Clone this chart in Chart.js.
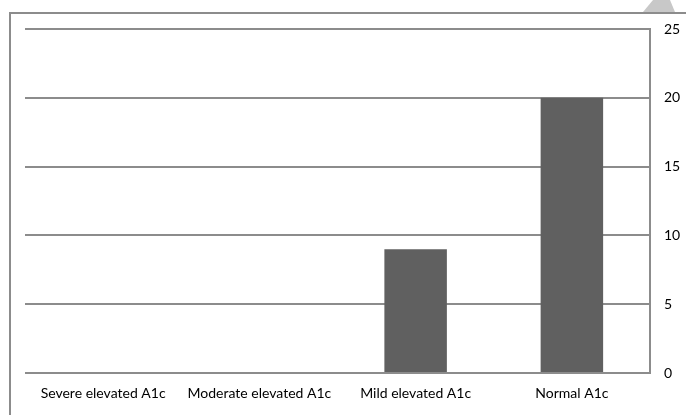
<!DOCTYPE html>
<html>
<head>
<meta charset="utf-8">
<script src="https://cdn.jsdelivr.net/npm/chart.js@4/dist/chart.umd.min.js"></script>
<style>
html,body{margin:0;padding:0;background:#fff;}
#wrap{width:686px;height:415px;position:relative;}
</style>
</head>
<body>
<div id="wrap"><canvas id="c" width="686" height="415"></canvas></div>
<script>
const categories = ["Severe elevated A1c", "Moderate elevated A1c", "Mild elevated A1c", "Normal A1c"];
const values = [0, 0, 9, 20];
const yMin = 0, yMax = 25, yStep = 5;

const framePlugin = {
  id: 'frame',
  beforeDraw(chart) {
    const ctx = chart.ctx;
    ctx.save();
    ctx.fillStyle = '#ffffff';
    ctx.fillRect(0, 0, chart.width, chart.height);
    // outer frame lines
    ctx.strokeStyle = '#8c8c8c';
    ctx.lineWidth = 2;
    ctx.beginPath();
    ctx.moveTo(10, 415);
    ctx.lineTo(10, 13);
    ctx.lineTo(686, 13);
    ctx.stroke();
    // decorative corner shape
    ctx.fillStyle = '#c8c8c8';
    ctx.beginPath();
    ctx.moveTo(643, 12);
    ctx.lineTo(653, 0);
    ctx.lineTo(670, 0);
    ctx.lineTo(675, 12);
    ctx.closePath();
    ctx.fill();
    ctx.restore();
  }
};

new Chart(document.getElementById('c'), {
  type: 'bar',
  data: {
    labels: categories,
    datasets: [{
      data: values,
      backgroundColor: '#606060',
      borderWidth: 0,
      categoryPercentage: 1.0,
      barPercentage: 0.4
    }]
  },
  options: {
    responsive: false,
    animation: false,
    devicePixelRatio: 1,
    layout: { padding: { left: 25, top: 29, right: 0, bottom: 0 } },
    plugins: { legend: { display: false }, tooltip: { enabled: false } },
    scales: {
      x: {
        grid: { display: false, drawTicks: false },
        border: { display: false },
        ticks: {
          color: '#000000',
          font: { family: 'Lato', size: 14 },
          padding: 12,
          maxRotation: 0,
          autoSkip: false
        },
        afterFit(scale) { scale.height = 42; }
      },
      y: {
        position: 'right',
        min: yMin,
        max: yMax,
        grid: { color: '#8c8c8c', lineWidth: 2, drawTicks: false },
        border: { display: true, color: '#8c8c8c', width: 2 },
        ticks: {
          stepSize: yStep,
          color: '#000000',
          font: { family: 'Lato', size: 14 },
          padding: 14
        },
        afterFit(scale) { scale.width = 36; }
      }
    }
  },
  plugins: [framePlugin]
});
</script>
</body>
</html>
